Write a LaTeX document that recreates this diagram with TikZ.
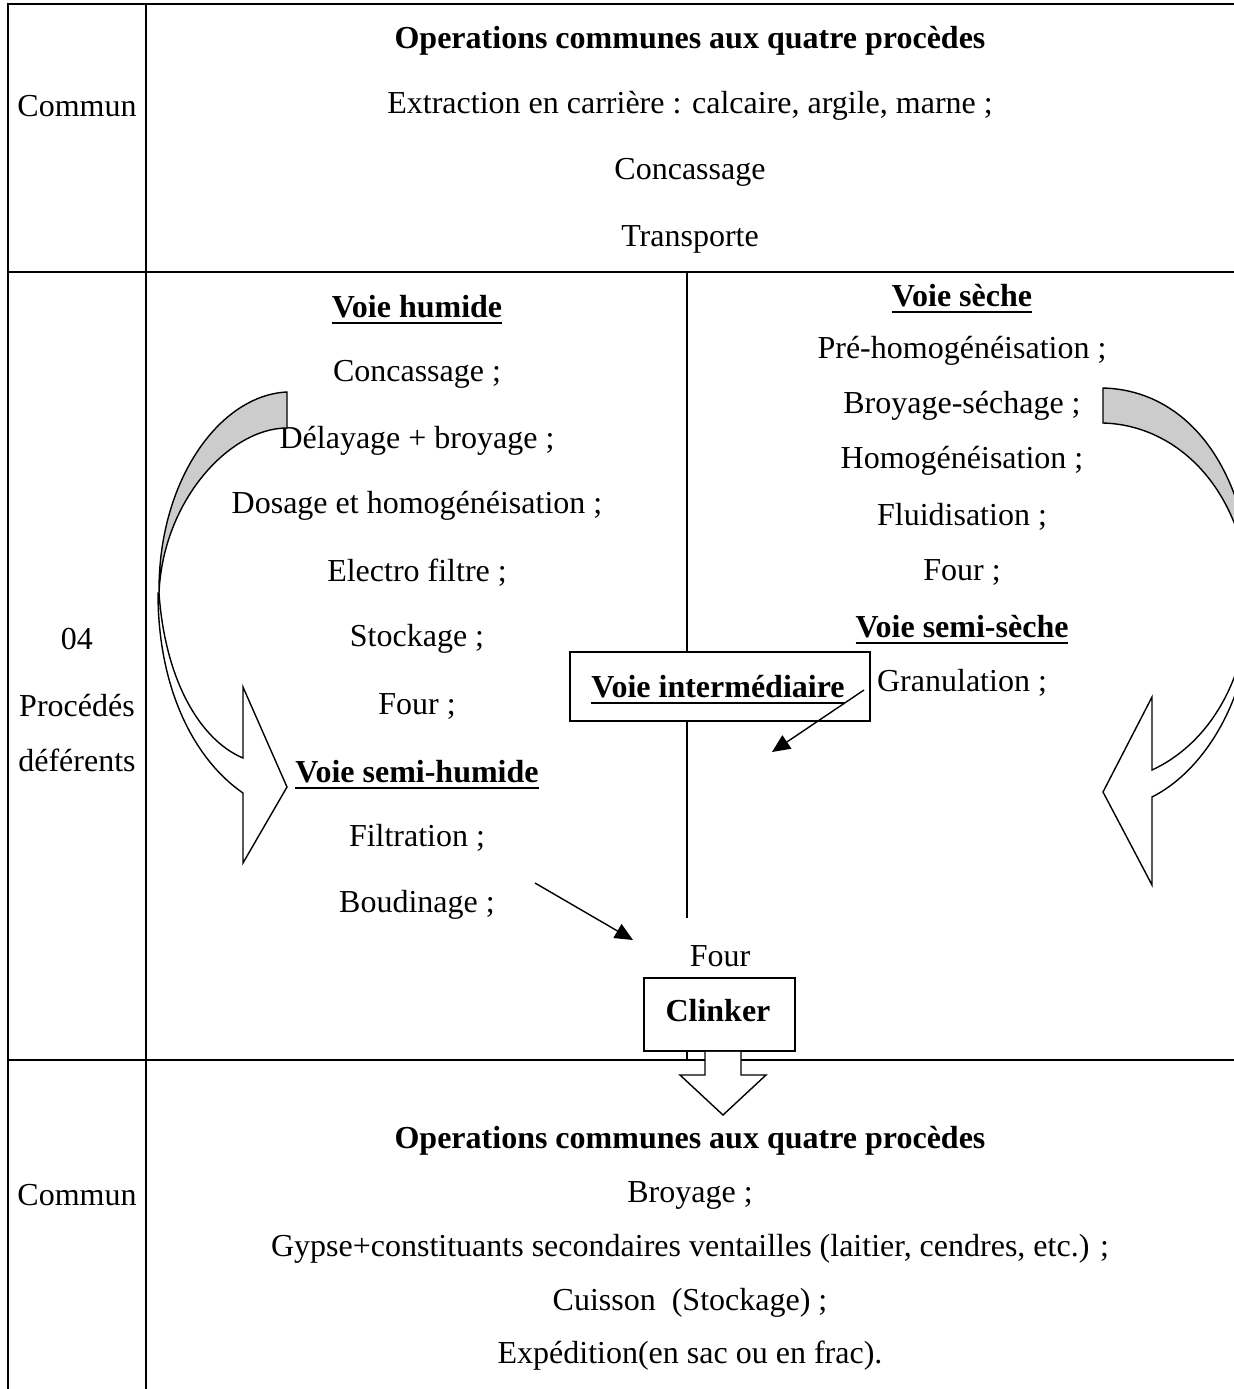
\documentclass[tikz,border=0pt]{standalone}
\usepackage{fontspec}
\setmainfont{Liberation Serif}
\usetikzlibrary{arrows.meta}
\newcommand\myul[1]{\vtop{\hbox{#1}\kern1.6pt\hrule height 1.3pt}}
\begin{document}
\begin{tikzpicture}[x=0.5pt,y=-0.5pt,
  every node/.style={inner sep=0pt,font=\fontsize{16}{18}\selectfont},
  grid/.style={line width=0.8pt},
  tx/.style={yshift=-1.5pt},
  hd/.style={yshift=-1.5pt,font=\fontsize{16}{18}\selectfont\bfseries},
  box/.style={draw,line width=0.9pt,fill=white},
  pointer/.style={line width=0.7pt,-{Triangle[length=9pt,width=8pt]}},
  ribbon/.style={draw,line width=0.7pt,line join=miter}]
\useasboundingbox (0,0) rectangle (1234,1389);
\clip (0,0) rectangle (1234,1389);
% table
\draw[grid] (8,1389) -- (8,4) -- (1240,4);
\draw[grid] (146,4) -- (146,1389);
\draw[grid] (8,272) -- (1240,272);
\draw[grid] (8,1060) -- (1240,1060);
\draw[grid] (687,272) -- (687,918);
% top section
\node[hd] (t0) at (690,38) {Operations communes aux quatre procèdes};
\node[tx] (t1) at (690,103) {Extraction en carrière : calcaire, argile, marne ;};
\node[tx] (t2) at (690,169) {Concassage};
\node[tx] (t3) at (690,236) {Transporte};
\node[tx] (c1) at (77,103) {Commun};
% left labels
\node[tx] (p1) at (77,636) {04};
\node[tx] (p2) at (77,703) {Procédés};
\node[tx] (p3) at (77,757) {déférents};
% voie humide
\node[hd] (h0) at (417,307) {\myul{Voie humide}};
\node[tx] (h1) at (417,371) {Concassage ;};
\node[tx] (h2) at (417,438) {Délayage + broyage ;};
\node[tx] (h3) at (417,503) {Dosage et homogénéisation ;};
\node[tx] (h4) at (417,570) {Electro filtre ;};
\node[tx] (h5) at (417,636) {Stockage ;};
\node[tx] (h6) at (417,703) {Four ;};
\node[hd] (sh0) at (417,772) {\myul{Voie semi-humide}};
\node[tx] (sh1) at (417,835) {Filtration ;};
\node[tx] (sh2) at (417,902) {Boudinage ;};
% voie seche
\node[hd] (s0) at (962,296) {\myul{Voie sèche}};
\node[tx] (s1) at (962,348) {Pré-homogénéisation ;};
\node[tx] (s2) at (962,403) {Broyage-séchage ;};
\node[tx] (s3) at (962,458) {Homogénéisation ;};
\node[tx] (s4) at (962,514) {Fluidisation ;};
\node[tx] (s5) at (962,569) {Four ;};
\node[hd] (ss0) at (962,627) {\myul{Voie semi-sèche}};
\node[tx] (ss1) at (962,680) {Granulation ;};
% intermediate
\node[box,minimum width=150pt,minimum height=34.5pt] (vi) at (720,686.5) {};
\node[hd] (vit) at (718,687) {\myul{Voie intermédiaire}};
\coordinate (vis) at (864,690);
\coordinate (vie) at (772,752);
\draw[pointer] (vis) -- (vie);
\coordinate (bs) at (535,883);
\coordinate (be) at (633,940);
\draw[pointer] (bs) -- (be);
% four / clinker
\node[tx] (four) at (720,953) {Four};
\draw[grid] (687,1051) -- (687,1060);
\node[box,minimum width=75.5pt,minimum height=36.5pt] (clk) at (719.5,1014.5) {};
\node[hd] (clkt) at (718,1008) {Clinker};
\draw[ribbon,fill=white] (clk.south -| 705,0) -- (705,1075) -- (680,1075) -- (723,1115) -- (766,1075) -- (741,1075) -- (clk.south -| 741,0);
% bottom section
\node[hd] (b0) at (690,1138) {Operations communes aux quatre procèdes};
\node[tx] (b1) at (690,1192) {Broyage ;};
\node[tx] (b2) at (690,1246) {Gypse+constituants secondaires ventailles (laitier, cendres, etc.) ;};
\node[tx] (b3) at (690,1300) {Cuisson~ (Stockage) ;};
\node[tx] (b4) at (690,1353) {Expédition(en sac ou en frac).};
\node[tx] (c2) at (77,1192) {Commun};
% left curved arrow
\draw[ribbon,fill=black!20] (287,392) -- (287,428) .. controls (230,428) and (163,500) .. (159,593)
  .. controls (158,480) and (220,395) .. (287,392) -- cycle;
\draw[ribbon,fill=white] (158,593) .. controls (158,690) and (195,760) .. (243,793)
  -- (243,863) -- (287,787) -- (243,687) -- (243,758)
  .. controls (200,740) and (165,680) .. (159,593) -- cycle;
% right curved arrow
\draw[ribbon,fill=black!20] (1103,388) -- (1103,423) .. controls (1178,425) and (1244,490) .. (1250,597)
  -- (1252,597) .. controls (1250,470) and (1188,390) .. (1103,388) -- cycle;
\draw[ribbon,fill=white] (1252,597) .. controls (1252,700) and (1202,772) .. (1152,797)
  -- (1152,885) -- (1103,792) -- (1152,697) -- (1152,770)
  .. controls (1202,747) and (1246,690) .. (1250,597) -- cycle;
\end{tikzpicture}
\end{document}
